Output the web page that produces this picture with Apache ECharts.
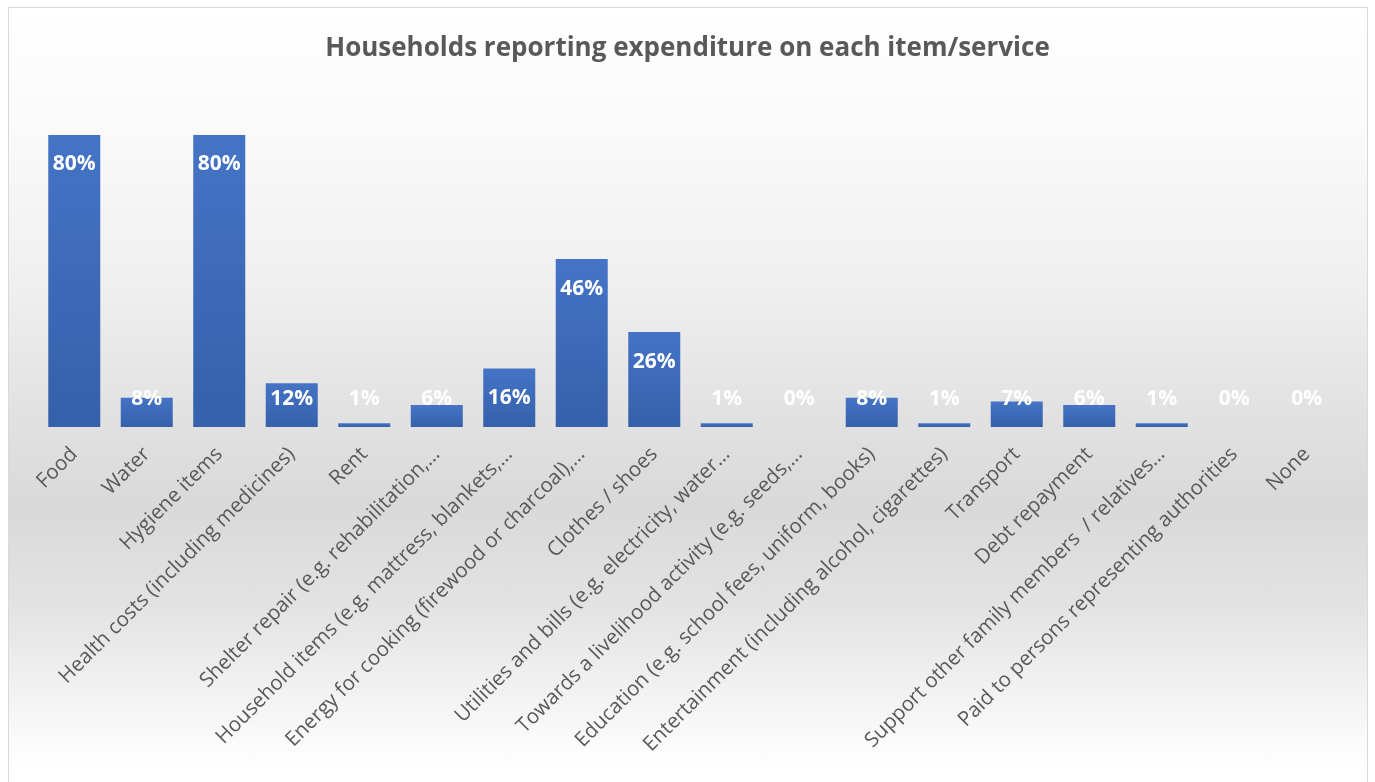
<!DOCTYPE html>
<html>
<head>
<meta charset="utf-8">
<script src="https://cdn.jsdelivr.net/npm/echarts@6/dist/echarts.min.js"></script>
<style>
  html, body { margin: 0; padding: 0; width: 1375px; height: 782px; overflow: hidden; background: #ffffff; }
  #frame {
    position: absolute; left: 8px; top: 7px; width: 1360px; height: 800px;
    border: 1px solid #d9d9d9; box-sizing: border-box;
    background: linear-gradient(to bottom,
      #ffffff 0px, #fafafa 120px, #efefef 280px, #e2e2e2 400px,
      #d9d9d9 500px, #e3e3e3 600px, #f3f3f3 690px, #ffffff 760px, #ffffff 800px);
  }
  #chart { position: absolute; left: 0; top: 0; width: 1375px; height: 782px; }
</style>
</head>
<body>
<div id="frame"></div>
<div id="chart"></div>
<script>
// Share of households reporting expenditure on each item / service (%)
const categories = [
  'Food',
  'Water',
  'Hygiene items',
  'Health costs (including medicines)',
  'Rent',
  'Shelter repair (e.g. rehabilitation,…',
  'Household items (e.g. mattress, blankets,…',
  'Energy for cooking (firewood or charcoal),…',
  'Clothes / shoes',
  'Utilities and bills (e.g. electricity, water…',
  'Towards a livelihood activity (e.g. seeds,…',
  'Education (e.g. school fees, uniform, books)',
  'Entertainment (including alcohol, cigarettes)',
  'Transport',
  'Debt repayment',
  'Support other family members  / relatives…',
  'Paid to persons representing authorities',
  'None'
];
const shares = [80, 8, 80, 12, 1, 6, 16, 46, 26, 1, 0, 8, 1, 7, 6, 1, 0, 0];

const titleText = 'Households reporting expenditure on each item/service';

const barFill = new echarts.graphic.LinearGradient(0, 0, 0, 1, [
  { offset: 0, color: '#4574c6' },
  { offset: 1, color: '#3560aa' }
]);

// Short bars keep their label at a common height above the baseline
const seriesData = shares.map(v => {
  if (v < 15) {
    return { value: v, label: { position: 'insideBottom', distance: 17 } };
  }
  return { value: v, label: { position: 'insideTop', distance: 19 } };
});

const chart = echarts.init(document.getElementById('chart'), null, { renderer: 'canvas' });
chart.setOption({
  backgroundColor: 'transparent',
  animation: false,
  title: {
    text: titleText,
    left: 'center',
    top: 31,
    textStyle: { fontFamily: 'Open Sans', fontWeight: 'bold', fontSize: 26, color: '#595959' }
  },
  grid: { left: 38, right: 32, top: 62, bottom: 355 },
  xAxis: {
    type: 'category',
    data: categories,
    axisLine: { show: false },
    axisTick: { show: false },
    axisLabel: {
      interval: 0,
      rotate: 45,
      margin: 24,
      color: '#595959',
      fontFamily: 'Open Sans',
      fontSize: 20.5
    }
  },
  yAxis: {
    type: 'value',
    min: 0,
    max: 100,
    show: false,
    splitLine: { show: false }
  },
  series: [{
    type: 'bar',
    data: seriesData,
    barWidth: 52,
    itemStyle: { color: barFill },
    label: {
      show: true,
      color: '#ffffff',
      fontFamily: 'Open Sans',
      fontWeight: 'bold',
      fontSize: 21,
      lineHeight: 21,
      formatter: p => p.value + '%'
    }
  }]
});
</script>
</body>
</html>
